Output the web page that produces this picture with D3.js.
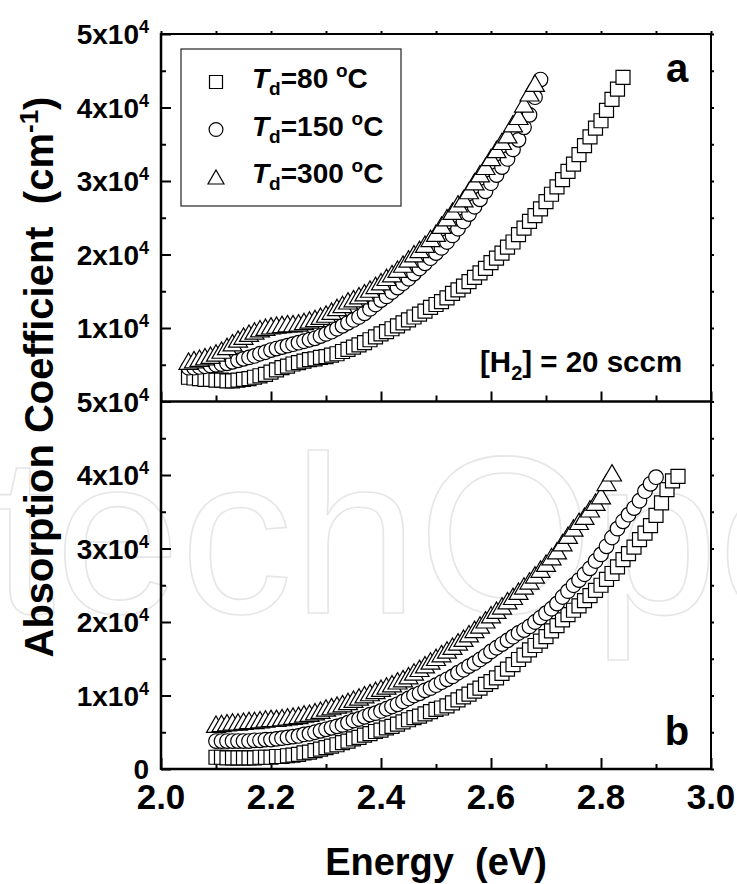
<!DOCTYPE html>
<html>
<head>
<meta charset="utf-8">
<script src="https://cdn.jsdelivr.net/npm/d3@7"></script>
<style>
  body { margin: 0; background: #fff; }
  svg { display: block; font-family: "Liberation Sans", Arial, sans-serif; font-weight: bold; }
</style>
</head>
<body>
<svg id="mainsvg" width="737" height="884"></svg>
<script>
// photon energy grids (eV)
const energyA = [2.05, 2.06, 2.07, 2.08, 2.09, 2.10, 2.11, 2.12, 2.13, 2.14,
  2.15, 2.16, 2.17, 2.18, 2.19, 2.20, 2.21, 2.22, 2.23, 2.24,
  2.25, 2.26, 2.27, 2.28, 2.29, 2.30, 2.31, 2.32, 2.33, 2.34,
  2.35, 2.36, 2.37, 2.38, 2.39, 2.40, 2.41, 2.42, 2.43, 2.44,
  2.45, 2.46, 2.47, 2.48, 2.49, 2.50, 2.51, 2.52, 2.53, 2.54,
  2.55, 2.56, 2.57, 2.58, 2.59, 2.60, 2.61, 2.62, 2.63, 2.64,
  2.65, 2.66, 2.67, 2.68, 2.69, 2.70, 2.71, 2.72, 2.73, 2.74,
  2.75, 2.76, 2.77, 2.78, 2.79, 2.80, 2.81, 2.82, 2.83, 2.84];
const energyB = [2.10, 2.11, 2.12, 2.13, 2.14, 2.15, 2.16, 2.17, 2.18, 2.19,
  2.20, 2.21, 2.22, 2.23, 2.24, 2.25, 2.26, 2.27, 2.28, 2.29,
  2.30, 2.31, 2.32, 2.33, 2.34, 2.35, 2.36, 2.37, 2.38, 2.39,
  2.40, 2.41, 2.42, 2.43, 2.44, 2.45, 2.46, 2.47, 2.48, 2.49,
  2.50, 2.51, 2.52, 2.53, 2.54, 2.55, 2.56, 2.57, 2.58, 2.59,
  2.60, 2.61, 2.62, 2.63, 2.64, 2.65, 2.66, 2.67, 2.68, 2.69,
  2.70, 2.71, 2.72, 2.73, 2.74, 2.75, 2.76, 2.77, 2.78, 2.79,
  2.80, 2.81, 2.82, 2.83, 2.84, 2.85, 2.86, 2.87, 2.88, 2.89,
  2.90, 2.91, 2.92, 2.93, 2.94];

// absorption coefficient, in units of 1e4 cm^-1
// panel a
const a80 = [.33, .32, .31, .30, .30, .29, .29, .28, .28, .29,
  .30, .31, .33, .35, .37, .40, .43, .46, .48, .51,
  .53, .55, .57, .58, .60, .61, .63, .65, .68, .71,
  .74, .77, .80, .84, .88, .92, .95, .99, 1.03, 1.07,
  1.11, 1.15, 1.19, 1.23, 1.28, 1.32, 1.36, 1.41, 1.47, 1.52,
  1.57, 1.63, 1.69, 1.75, 1.81, 1.89, 1.95, 2.02, 2.10, 2.17,
  2.27, 2.36, 2.45, 2.53, 2.62, 2.72, 2.82, 2.92, 3.02, 3.13,
  3.23, 3.36, 3.48, 3.60, 3.72, 3.82, 3.96, 4.11, 4.25, 4.41];
const a150 = [.46, .46, .47, .48, .49, .50, .51, .52, .54, .56,
  .58, .60, .62, .65, .67, .70, .72, .74, .76, .78,
  .80, .82, .84, .86, .89, .92, .95, .99, 1.03, 1.07,
  1.11, 1.15, 1.20, 1.26, 1.32, 1.38, 1.43, 1.49, 1.55, 1.61,
  1.67, 1.74, 1.81, 1.88, 1.95, 2.02, 2.09, 2.17, 2.26, 2.35,
  2.45, 2.55, 2.65, 2.75, 2.86, 2.97, 3.08, 3.19, 3.30, 3.43,
  3.56, 3.73, 3.90, 4.14, 4.38];
const a300 = [.55, .57, .59, .61, .63, .66, .70, .75, .80, .85,
  .89, .93, .96, .99, 1.01, 1.03, 1.04, 1.05, 1.06, 1.06,
  1.07, 1.09, 1.11, 1.13, 1.16, 1.19, 1.23, 1.28, 1.32, 1.37,
  1.40, 1.44, 1.48, 1.53, 1.58, 1.63, 1.69, 1.74, 1.80, 1.87,
  1.94, 2.01, 2.07, 2.14, 2.22, 2.29, 2.40, 2.50, 2.59, 2.69,
  2.76, 2.87, 2.99, 3.10, 3.20, 3.32, 3.43, 3.54, 3.63, 3.78,
  3.88, 4.05, 4.20, 4.33];
// panel b
const b80 = [.16, .16, .15, .15, .15, .15, .15, .15, .16, .16,
  .16, .17, .17, .18, .19, .20, .22, .23, .25, .27,
  .29, .31, .33, .36, .38, .41, .43, .46, .48, .51,
  .53, .56, .58, .61, .64, .67, .70, .72, .75, .78,
  .81, .83, .86, .90, .94, .98, 1.02, 1.06, 1.10, 1.15,
  1.19, 1.24, 1.30, 1.36, 1.42, 1.49, 1.55, 1.62, 1.68, 1.74,
  1.80, 1.88, 1.95, 2.03, 2.10, 2.16, 2.22, 2.29, 2.36, 2.43,
  2.50, 2.58, 2.66, 2.75, 2.85, 2.93, 3.02, 3.12, 3.21, 3.31,
  3.45, 3.62, 3.80, 3.92, 3.98];
const b150 = [.38, .38, .38, .38, .38, .38, .38, .39, .39, .40,
  .40, .41, .42, .43, .44, .45, .47, .48, .50, .52,
  .54, .56, .58, .60, .63, .66, .68, .71, .74, .76,
  .79, .82, .85, .88, .92, .96, 1.00, 1.03, 1.07, 1.10,
  1.14, 1.18, 1.22, 1.26, 1.31, 1.35, 1.40, 1.44, 1.49, 1.54,
  1.60, 1.65, 1.70, 1.75, 1.80, 1.85, 1.89, 1.94, 2.00, 2.06,
  2.12, 2.18, 2.25, 2.34, 2.42, 2.50, 2.57, 2.65, 2.73, 2.83,
  2.92, 3.03, 3.15, 3.27, 3.37, 3.46, 3.55, 3.65, 3.78, 3.88,
  3.97];
const b300 = [.61, .62, .63, .64, .64, .65, .66, .66, .67, .68,
  .69, .69, .70, .71, .72, .73, .75, .76, .78, .80,
  .83, .85, .87, .89, .92, .95, .98, 1.01, 1.04, 1.07,
  1.10, 1.13, 1.16, 1.20, 1.23, 1.27, 1.32, 1.37, 1.42, 1.47,
  1.52, 1.57, 1.62, 1.67, 1.73, 1.78, 1.84, 1.90, 1.96, 2.03,
  2.10, 2.16, 2.22, 2.29, 2.35, 2.42, 2.49, 2.56, 2.64, 2.72,
  2.80, 2.89, 2.97, 3.08, 3.18, 3.28, 3.37, 3.44, 3.54, 3.63,
  3.72, 3.90, 4.03];

const legendTemps = ['80', '150', '300'];
const yTicks = [0, 1, 2, 3, 4, 5];
const yMinor = [0.5, 1.5, 2.5, 3.5, 4.5];
const xTicks = [2.0, 2.2, 2.4, 2.6, 2.8, 3.0];
const xMinor = [2.1, 2.3, 2.5, 2.7, 2.9];

const svg = d3.select('#mainsvg');
const left = 161, right = 711;
const x = d3.scaleLinear().domain([2, 3]).range([left, right]);
const yA = d3.scaleLinear().domain([0, 5]).range([401.5, 34]);
const yB = d3.scaleLinear().domain([0, 5]).range([769, 401.5]);

// faint publisher watermark behind the plot
svg.append('text')
  .attr('x', -195).attr('y', 613)
  .attr('font-size', 225).attr('font-weight', 'normal')
  .attr('fill', 'none').attr('stroke', '#e6e6e6').attr('stroke-width', 1.6)
  .text('IntechOpen');

// ticks
function ticks(axis, pos, values, size) {
  svg.append('g').attr('transform', pos)
    .call(axis.tickValues(values).tickSize(size).tickFormat(''))
    .call(g => g.select('.domain').remove())
    .selectAll('line').attr('stroke', '#000').attr('stroke-width', 2);
}
[yA, yB].forEach(y => {
  ticks(d3.axisLeft(y), `translate(${left},0)`, yTicks, -10);
  ticks(d3.axisLeft(y), `translate(${left},0)`, yMinor, -5);
  ticks(d3.axisRight(y), `translate(${right},0)`, yTicks.concat(yMinor), 3);
});
ticks(d3.axisBottom(x), 'translate(0,769)', xTicks, -11);
ticks(d3.axisBottom(x), 'translate(0,769)', xMinor, -5);
ticks(d3.axisBottom(x), 'translate(0,401.5)', xTicks, -10);
ticks(d3.axisBottom(x), 'translate(0,401.5)', xMinor, -6);
ticks(d3.axisTop(x), 'translate(0,34)', xTicks.concat(xMinor), 3);

// frame
const frame = svg.append('g').attr('stroke', '#000').attr('fill', 'none');
frame.append('line').attr('x1', left).attr('x2', right).attr('y1', 34).attr('y2', 34).attr('stroke-width', 2);
frame.append('line').attr('x1', right).attr('x2', right).attr('y1', 34).attr('y2', 769).attr('stroke-width', 2);
frame.append('line').attr('x1', left).attr('x2', right).attr('y1', 401.5).attr('y2', 401.5).attr('stroke-width', 2.5);
frame.append('line').attr('x1', left).attr('x2', right).attr('y1', 769).attr('y2', 769).attr('stroke-width', 2.5);
frame.append('line').attr('x1', left).attr('x2', left).attr('y1', 33).attr('y2', 770).attr('stroke-width', 2.5);

// y tick labels (panel a hides its 0, panel b shows all)
function yLabels(y, values) {
  values.forEach(v => {
    const t = svg.append('text').attr('x', 149).attr('y', y(v) + 10)
      .attr('text-anchor', 'end').attr('font-size', 28);
    if (v === 0) { t.text('0'); return; }
    t.append('tspan').text(`${v}x10`);
    t.append('tspan').attr('font-size', 18).attr('dy', -11).text('4');
  });
}
yLabels(yA, yTicks.slice(1));
yLabels(yB, yTicks);

// x tick labels
svg.selectAll('.xlab').data(xTicks).join('text').attr('class', 'xlab')
  .attr('x', d => x(d)).attr('y', 809)
  .attr('text-anchor', 'middle').attr('font-size', 35)
  .text(d3.format('.1f'));

// axis titles
svg.append('text').attr('x', 436).attr('y', 875)
  .attr('text-anchor', 'middle').attr('font-size', 38)
  .text('Energy\u00a0\u00a0(eV)');
const yt = svg.append('text').attr('transform', 'translate(53,377) rotate(-90)')
  .attr('text-anchor', 'middle').attr('font-size', 40);
yt.append('tspan').text('Absorption Coefficient\u00a0\u00a0(cm');
yt.append('tspan').attr('font-size', 26).attr('dy', -15).text('-1');
yt.append('tspan').attr('dy', 15).text(')');

// markers
const shapes = [
  'M-7,-7H7V7H-7Z',
  d3.symbol(d3.symbolCircle, 168)(),
  'M0,-8.2L9.5,8.2L-9.5,8.2Z'
];
function drawSeries(energy, values, y, shape) {
  const pts = values.map((v, i) => ({ e: energy[i], v }));
  svg.append('g').selectAll('path').data(pts).join('path')
    .attr('d', shape)
    .attr('transform', d => `translate(${x(d.e)},${y(d.v)})`)
    .attr('fill', '#fff').attr('stroke', '#000').attr('stroke-width', 1.2);
}
[a80, a150, a300].forEach((s, i) => drawSeries(energyA, s, yA, shapes[i]));
[b80, b150, b300].forEach((s, i) => drawSeries(energyB, s, yB, shapes[i]));

// legend
svg.append('rect').attr('x', 181).attr('y', 49).attr('width', 220).attr('height', 157)
  .attr('fill', '#fff').attr('stroke', '#333').attr('stroke-width', 1.3);
const legendShapes = [
  'M-6.5,-6.5H6.5V6.5H-6.5Z',
  d3.symbol(d3.symbolCircle, 150)(),
  'M0,-7L8,7L-8,7Z'
];
legendTemps.forEach((t, i) => {
  const cy = 82 + i * 47.5;
  svg.append('path').attr('d', legendShapes[i])
    .attr('transform', `translate(216,${cy})`)
    .attr('fill', '#fff').attr('stroke', '#000').attr('stroke-width', 1.2);
  const txt = svg.append('text').attr('x', 252).attr('y', cy + 6).attr('font-size', 28);
  txt.append('tspan').attr('font-style', 'italic').text('T');
  txt.append('tspan').attr('font-size', 19).attr('dy', 7).text('d');
  txt.append('tspan').attr('dy', -7).text(`=${t}\u00a0`);
  txt.append('tspan').attr('font-size', 19).attr('dy', -11).text('o');
  txt.append('tspan').attr('dy', 11).text('C');
});

// panel annotations
svg.append('text').attr('x', 677).attr('y', 82).attr('text-anchor', 'middle').attr('font-size', 40).text('a');
svg.append('text').attr('x', 677).attr('y', 745).attr('text-anchor', 'middle').attr('font-size', 40).text('b');
const h2 = svg.append('text').attr('x', 480).attr('y', 372).attr('font-size', 29.5);
h2.append('tspan').text('[H');
h2.append('tspan').attr('font-size', 20).attr('dy', 8).text('2');
h2.append('tspan').attr('dy', -8).text('] = 20 sccm');
</script>
</body>
</html>
